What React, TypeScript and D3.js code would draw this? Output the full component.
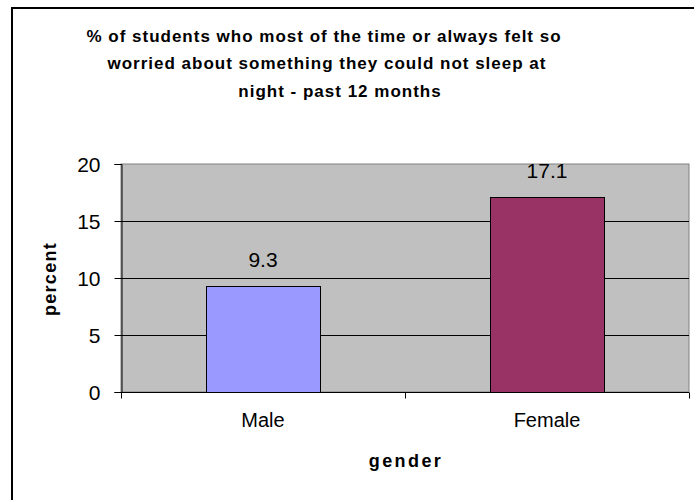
import React, { useEffect, useRef } from 'react';
import * as d3 from 'd3';

const categories = ['Male', 'Female'];
const values = [9.3, 17.1];
const barColors = ['#9999FF', '#993366'];
const yTicks = [0, 5, 10, 15, 20];
const titleLines = [
  '% of students who most of the time or always felt so',
  'worried about something they could not sleep at',
  'night - past 12 months',
];

const App = () => {
  const svgRef = useRef<SVGSVGElement>(null);

  useEffect(() => {
    const svg = d3.select(svgRef.current);
    svg.selectAll('*').remove();

    const W = 694;
    const H = 500;
    const plot = { left: 121, right: 689, top: 164, bottom: 392 };
    const font = 'Liberation Sans, Arial, sans-serif';

    svg.attr('width', W).attr('height', H);

    // white background + outer chart border (cut off at right / bottom)
    svg.append('rect').attr('width', W).attr('height', H).attr('fill', '#fff');
    svg.append('path')
      .attr('d', `M12,${H} V8 H${W}`)
      .attr('fill', 'none')
      .attr('stroke', '#000')
      .attr('stroke-width', 2);

    // Title (each line centred a little differently, as in the original)
    const titleCenters = [324, 327, 340];
    svg.append('g')
      .selectAll('text')
      .data(titleLines)
      .enter().append('text')
      .attr('x', (d, i) => titleCenters[i])
      .attr('y', (d, i) => 42 + i * 27.3)
      .attr('text-anchor', 'middle')
      .style('font-family', font)
      .style('font-size', '17px')
      .style('font-weight', 'bold')
      .style('letter-spacing', '1px')
      .text(d => d);

    const x = d3.scaleBand()
      .domain(categories)
      .range([plot.left, plot.right])
      .paddingInner(0.6)
      .paddingOuter(0.3);

    const y = d3.scaleLinear()
      .domain([0, 20])
      .range([plot.bottom, plot.top]);

    // Plot area
    svg.append('rect')
      .attr('x', plot.left)
      .attr('y', plot.top)
      .attr('width', plot.right - plot.left)
      .attr('height', plot.bottom - plot.top)
      .attr('fill', '#C0C0C0')
      .attr('stroke', '#808080')
      .attr('stroke-width', 1);

    // Grid lines
    svg.append('g')
      .selectAll('line')
      .data(yTicks.filter(t => t > 0 && t < 20))
      .enter().append('line')
      .attr('x1', plot.left)
      .attr('x2', plot.right)
      .attr('y1', d => Math.round(y(d)) + 0.5)
      .attr('y2', d => Math.round(y(d)) + 0.5)
      .attr('stroke', '#000')
      .attr('stroke-width', 1);

    // Bars
    svg.append('g')
      .selectAll('rect')
      .data(values)
      .enter().append('rect')
      .attr('x', (d, i) => Math.round(x(categories[i])!) + 0.5)
      .attr('y', d => Math.round(y(d)) + 0.5)
      .attr('width', Math.round(x.bandwidth()))
      .attr('height', d => Math.round(y(0)) - Math.round(y(d)))
      .attr('fill', (d, i) => barColors[i])
      .attr('stroke', '#000')
      .attr('stroke-width', 1);

    // Value labels
    svg.append('g')
      .selectAll('text')
      .data(values)
      .enter().append('text')
      .attr('x', (d, i) => x(categories[i])! + x.bandwidth() / 2)
      .attr('y', d => y(d) - 19)
      .attr('text-anchor', 'middle')
      .style('font-family', font)
      .style('font-size', '21px')
      .text(d => d);

    // Y axis
    const yAxis = d3.axisLeft(y).tickValues(yTicks).tickSize(7).tickPadding(14);
    const yg = svg.append('g')
      .attr('transform', `translate(${plot.left + 0.5},0)`)
      .call(yAxis);
    yg.selectAll('text')
      .style('font-family', font)
      .style('font-size', '21px')
      .attr('dy', '0.36em')
      .attr('fill', '#000');
    yg.select('.domain').attr('stroke', '#000');

    // X axis
    const xAxis = d3.axisBottom(x).tickSize(0).tickPadding(20);
    const xg = svg.append('g')
      .attr('transform', `translate(0,${plot.bottom + 0.5})`)
      .call(xAxis);
    xg.select('.domain').attr('d', `M${plot.left},0H${plot.right}`).attr('stroke', '#000');
    xg.selectAll('text')
      .style('font-family', font)
      .style('font-size', '20px')
      .attr('fill', '#000');

    // x tick marks between categories
    const boundaries = [plot.left, plot.left + (plot.right - plot.left) / 2, plot.right];
    xg.selectAll('.sep')
      .data(boundaries)
      .enter().append('line')
      .attr('class', 'sep')
      .attr('x1', d => Math.round(d) + 0.5)
      .attr('x2', d => Math.round(d) + 0.5)
      .attr('y1', 0)
      .attr('y2', 6)
      .attr('stroke', '#000');

    // Axis titles
    svg.append('text')
      .attr('x', (plot.left + plot.right) / 2 + 1)
      .attr('y', 467)
      .attr('text-anchor', 'middle')
      .style('font-family', font)
      .style('font-size', '18px')
      .style('font-weight', 'bold')
      .style('letter-spacing', '2.4px')
      .text('gender');

    svg.append('text')
      .attr('transform', `translate(56,${(plot.top + plot.bottom) / 2 + 1}) rotate(-90)`)
      .attr('text-anchor', 'middle')
      .style('font-family', font)
      .style('font-size', '18px')
      .style('font-weight', 'bold')
      .style('letter-spacing', '1.3px')
      .text('percent');
  }, []);

  return (
    <svg ref={svgRef} style={{ position: 'absolute', left: 0, top: 0 }}></svg>
  );
};

export default App;
